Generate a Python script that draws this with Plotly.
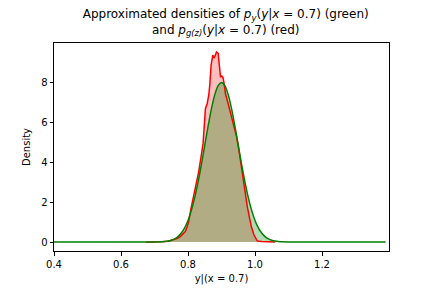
import plotly.graph_objects as go

# Red: approximated density p_g(z)(y|x=0.7)
red_x = [0.675, 0.70, 0.72, 0.74, 0.757, 0.767, 0.777, 0.785, 0.792, 0.797,
         0.802, 0.809, 0.817, 0.825, 0.832, 0.839, 0.845, 0.849, 0.852, 0.857,
         0.862, 0.865, 0.869, 0.874, 0.877, 0.880, 0.885, 0.890, 0.894, 0.897,
         0.901, 0.905, 0.909, 0.912, 0.917, 0.922, 0.927, 0.932, 0.937, 0.942,
         0.945, 0.952, 0.959, 0.965, 0.970, 0.977, 0.984, 0.989, 0.997, 1.007,
         1.02, 1.04, 1.06]
red_y = [0.0, 0.0, 0.01, 0.04, 0.10, 0.17, 0.27, 0.38, 0.52, 0.75,
         1.02, 1.68, 2.27, 2.93, 3.52, 4.27, 4.93, 5.93, 6.68, 6.90,
         7.35, 7.85, 8.85, 9.35, 9.20, 9.27, 9.50, 9.43, 8.85, 8.27,
         8.30, 8.20, 7.77, 7.40, 7.10, 6.77, 6.50, 6.10, 5.80, 5.43,
         5.27, 4.60, 3.77, 3.18, 2.43, 1.77, 1.18, 0.77, 0.35, 0.05,
         0.02, 0.01, 0.0]

# Green: approximated density p_y(y|x=0.7)
green_x = [0.40, 0.60, 0.66, 0.68, 0.70, 0.72, 0.73, 0.74, 0.75, 0.76,
           0.77, 0.78, 0.79, 0.80, 0.81, 0.82, 0.83, 0.84, 0.85, 0.86,
           0.87, 0.88, 0.89, 0.90, 0.91, 0.92, 0.93, 0.94, 0.95, 0.96,
           0.97, 0.98, 0.99, 1.00, 1.01, 1.02, 1.03, 1.04, 1.05, 1.06,
           1.07, 1.08, 1.10, 1.12, 1.14, 1.20, 1.39]
green_y = [0.0, 0.0, 0.0001, 0.0005, 0.0027, 0.012, 0.025, 0.048, 0.089, 0.158,
           0.272, 0.448, 0.71, 1.08, 1.58, 2.22, 2.99, 3.88, 4.84, 5.79,
           6.67, 7.37, 7.82, 7.98, 7.82, 7.37, 6.67, 5.79, 4.84, 3.88,
           2.99, 2.22, 1.58, 1.08, 0.71, 0.448, 0.272, 0.158, 0.089, 0.048,
           0.025, 0.012, 0.0027, 0.0005, 0.0001, 0.0, 0.0]

x_ticks = [0.4, 0.6, 0.8, 1.0, 1.2]
x_tick_labels = ["0.4", "0.6", "0.8", "1.0", "1.2"]
y_ticks = [0, 2, 4, 6, 8]

fig = go.Figure()
fig.add_trace(go.Scatter(x=red_x, y=red_y, mode="lines", fill="tozeroy",
                         fillcolor="rgba(255,0,0,0.25)", line=dict(width=0),
                         hoverinfo="skip", showlegend=False))
fig.add_trace(go.Scatter(x=green_x, y=green_y, mode="lines", fill="tozeroy",
                         fillcolor="rgba(0,128,0,0.3)", line=dict(width=0),
                         hoverinfo="skip", showlegend=False))
fig.add_trace(go.Scatter(x=red_x, y=red_y, mode="lines",
                         line=dict(color="red", width=1.5), showlegend=False))
fig.add_trace(go.Scatter(x=green_x, y=green_y, mode="lines",
                         line=dict(color="green", width=1.5, shape="spline", smoothing=0.6),
                         showlegend=False))

axis_common = dict(showline=True, linecolor="black", linewidth=1, mirror=True,
                   ticks="outside", ticklen=3.5, tickcolor="black", showgrid=False,
                   zeroline=False, automargin=False,
                   tickfont=dict(family="DejaVu Sans", size=10, color="black"))

fig.update_layout(
    width=432, height=288,
    margin=dict(l=54, r=43, t=43, b=37, autoexpand=False),
    paper_bgcolor="white", plot_bgcolor="white",
    title=dict(text="Approximated densities of <i>p<sub>y</sub></i>(<i>y</i>|<i>x</i> = 0.7) (green)<br>"
                    "and <i>p<sub>g(z)</sub></i>(<i>y</i>|<i>x</i> = 0.7) (red)",
               x=0.5125, xanchor="center", xref="paper",
               yref="container", y=1 - 18 / 288, yanchor="top", automargin=False,
               font=dict(family="DejaVu Sans", size=12, color="black")),
    xaxis=dict(range=[0.4, 1.40], tickvals=x_ticks, ticktext=x_tick_labels,
               title=dict(text="y|(x = 0.7)", standoff=6,
                          font=dict(family="DejaVu Sans", size=10, color="black")),
               **axis_common),
    yaxis=dict(range=[-0.45, 9.95], tickvals=y_ticks,
               title=dict(text="Density", standoff=8,
                          font=dict(family="DejaVu Sans", size=10, color="black")),
               **axis_common),
)

fig.write_html("out.html", config={"displayModeBar": False},
               post_script="document.body.style.margin='0';document.body.style.padding='0';")
